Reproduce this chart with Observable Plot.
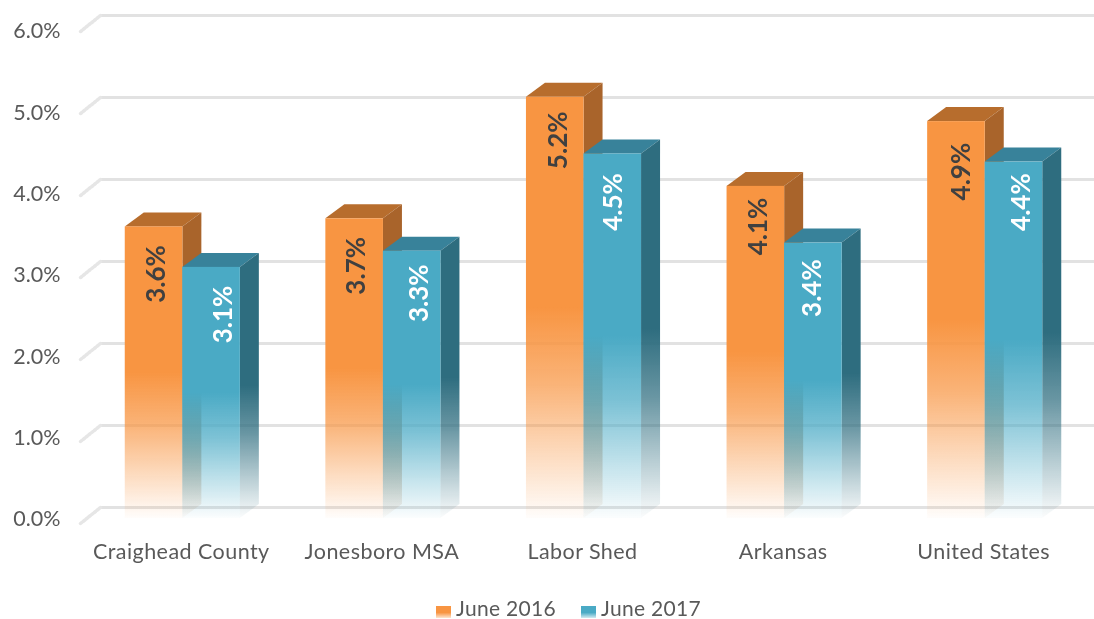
<!DOCTYPE html>
<html>
<head>
<meta charset="utf-8">
<script src="https://cdn.jsdelivr.net/npm/d3@7"></script>
<script src="https://cdn.jsdelivr.net/npm/@observablehq/plot@0.6"></script>
<style>
  html, body { margin: 0; padding: 0; background: #fff; overflow: hidden; }
  #chart svg { display: block; filter: blur(0.45px); }
  #chart g[aria-label="x-axis tick label"] { letter-spacing: 0.45px; }
  #chart g[aria-label="y-axis tick label"] { letter-spacing: 0.9px; }
  #legend { position: relative; height: 23px; line-height: 23px; font: 21px/23px Lato, sans-serif; color: #595959; letter-spacing: 0.3px; filter: blur(0.35px); }
  #legend span { position: absolute; top: 0; white-space: nowrap; }
  #legend i { position: absolute; top: 10px; width: 15px; height: 12px; }
</style>
</head>
<body>
<div id="chart"></div>
<div id="legend"></div>
<script>
const categories = ["Craighead County", "Jonesboro MSA", "Labor Shed", "Arkansas", "United States"];
const june2016 = [3.6, 3.7, 5.2, 4.1, 4.9];
const june2017 = [3.1, 3.3, 4.5, 3.4, 4.4];
const yTicks = [0, 1, 2, 3, 4, 5, 6];

// Hand placement of the rotated data labels, as in the original (pixels).
const nudge2016 = [[2.5, 47], [2.5, 47], [3.5, 43], [2.5, 40], [5.5, 50]];
const nudge2017 = [[12.5, 47], [7.5, 42], [0.5, 48], [-0.5, 45], [7.5, 40]];

const depthX = 19, depthY = 14;
const barOffset = 28.75;
const barInset = 71.5;
const wallLift = -11, wallStretch = 1.0123;

const colors = {
  a: {face: "#f89542", top: "#b76d2d", side: "#a9642b"},
  b: {face: "#4aaac5", top: "#38829a", side: "#2e6d7f"}
};

const fmt = d => d.toFixed(1) + "%";
const table = values => categories.map((c, i) => ({category: c, value: values[i]}));

function gradient(defs, id, color) {
  const g = defs.append("linearGradient").attr("id", id).attr("x1", 0).attr("x2", 0).attr("y1", 0).attr("y2", 1);
  [[0, 1], [0.5, 1], [0.68, 0.72], [0.85, 0.34], [1, 0.02]].forEach(([o, a]) =>
    g.append("stop").attr("offset", o).attr("stop-color", color).attr("stop-opacity", a));
}

const gradients = () => {
  const defs = d3.create("svg:defs");
  for (const k of ["a", "b"]) {
    gradient(defs, k + "face", colors[k].face);
    gradient(defs, k + "side", colors[k].side);
  }
  return defs.node();
};

// Adds the top and side of each bar behind the face drawn by the library.
const withDepth = key => function (index, scales, values, dimensions, context, next) {
  const g = next(index, scales, values, dimensions, context);
  const sel = d3.select(g);
  sel.selectAll("rect").each(function () {
    const x = +this.getAttribute("x"), w = +this.getAttribute("width");
    const y = +this.getAttribute("y"), h = +this.getAttribute("height");
    const r = x + w;
    const poly = (pts, fill) => {
      const p = document.createElementNS("http://www.w3.org/2000/svg", "polygon");
      p.setAttribute("points", pts.map(q => q.join(",")).join(" "));
      p.setAttribute("fill", fill);
      g.insertBefore(p, g.firstChild);
    };
    poly([[r, y], [r + depthX, y - depthY], [r + depthX, y + h - depthY], [r, y + h]], `url(#${key}side)`);
    poly([[x, y], [x + depthX, y - depthY], [r + depthX, y - depthY], [r, y]], colors[key].top);
  });
  return g;
};

const bars = (values, key, dx) => Plot.barY(table(values), {
  x: "category", y: "value", dx,
  fill: `url(#${key}face)`,
  insetLeft: barInset, insetRight: barInset,
  render: withDepth(key)
});

const labels = (values, nudges, dx, fill) => values.map((v, i) =>
  Plot.text([{category: categories[i], value: v}], {
    x: "category", y: "value", text: d => fmt(d.value),
    rotate: -90, dx: dx + nudges[i][0], dy: nudges[i][1],
    fill, fontSize: 26, fontWeight: 700, fontFamily: "Lato, sans-serif"
  }));

const wallY = d => d * wallStretch;

const plot = Plot.plot({
  width: 1094, height: 596,
  marginLeft: 82, marginRight: 9, marginTop: 32, marginBottom: 78,
  style: {background: "transparent"},
  x: {domain: categories, padding: 0, round: false, label: null, axis: null},
  y: {domain: [0, 6], label: null, axis: null},
  marks: [
    gradients,
    Plot.ruleY(yTicks, {y: wallY, dy: wallLift, stroke: "#e2e2e2", strokeWidth: 3, insetLeft: 18, insetRight: -9}),
    Plot.vector(yTicks, {
      y: wallY, frameAnchor: "left", dx: -2, dy: wallLift + 16, length: 25.6, rotate: 51.3, anchor: "start",
      shape: {draw(ctx, l) { ctx.moveTo(0, 0); ctx.lineTo(0, -l); }},
      stroke: "#e6e6e6", strokeWidth: 3.5, strokeDasharray: "2 1.5"
    }),
    Plot.text(yTicks, {
      y: d => d * 1.004, text: fmt, frameAnchor: "left", dx: -22, textAnchor: "end", dy: 1,
      fontSize: 21.5, fill: "#595959", fontFamily: "Lato, sans-serif", ariaLabel: "y-axis tick label"
    }),
    Plot.axisX({tickSize: 0, tickPadding: 25, dx: -1.5, fontSize: 21.5, fontFamily: "Lato, sans-serif", color: "#595959", label: null}),
    bars(june2016, "a", -barOffset),
    bars(june2017, "b", barOffset),
    labels(june2016, nudge2016, -barOffset, "#404040"),
    labels(june2017, nudge2017, barOffset, "#ffffff")
  ]
});
document.getElementById("chart").append(plot);

const legend = d3.select("#legend");
[["June 2016", colors.a.face, 436, 456], ["June 2017", colors.b.face, 581, 601]].forEach(([t, c, sx, tx]) => {
  legend.append("i").style("left", sx + "px").style("background", `linear-gradient(${c} 55%, #ffffff00 115%)`);
  legend.append("span").style("left", tx + "px").text(t);
});
</script>
</body>
</html>
